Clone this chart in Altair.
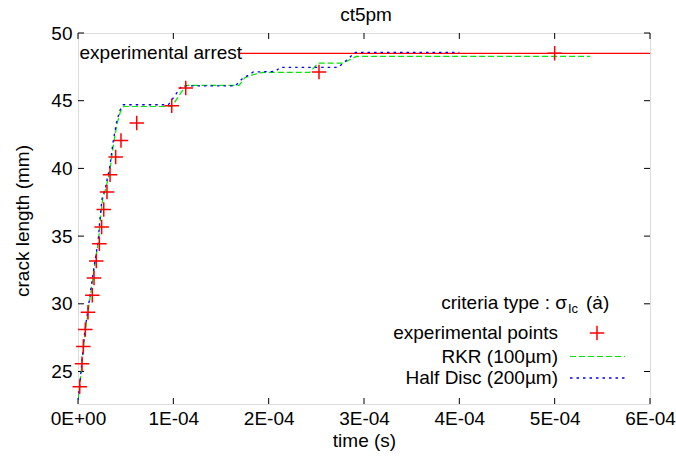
import altair as alt
import pandas as pd

# ---------------- data (time in s, crack length in mm) ----------------
exp_time = [0.018e-4, 0.042e-4, 0.056e-4, 0.077e-4, 0.105e-4, 0.150e-4, 0.168e-4,
            0.192e-4, 0.224e-4, 0.248e-4, 0.270e-4, 0.304e-4, 0.336e-4, 0.395e-4,
            0.451e-4, 0.616e-4, 0.983e-4, 1.130e-4, 2.528e-4, 5.000e-4]
exp_length = [23.88, 25.58, 26.84, 28.10, 29.38, 30.64, 31.91,
              33.17, 34.43, 35.68, 36.96, 38.25, 39.53, 40.84,
              42.06, 43.35, 44.63, 45.93, 47.12, 48.50]

rkr_time = [0.000e-4, 0.021e-4, 0.049e-4, 0.073e-4, 0.108e-4, 0.144e-4, 0.178e-4,
            0.213e-4, 0.235e-4, 0.258e-4, 0.295e-4, 0.340e-4, 0.375e-4, 0.410e-4,
            0.445e-4, 0.480e-4, 0.985e-4, 1.130e-4, 1.690e-4, 1.750e-4, 1.850e-4,
            1.940e-4, 2.430e-4, 2.520e-4, 2.780e-4, 2.920e-4, 5.370e-4]
rkr_length = [22.90, 24.10, 26.10, 27.80, 29.50, 31.30, 33.00,
              34.50, 36.20, 37.70, 38.60, 40.10, 41.90, 43.30,
              44.20, 44.57, 44.57, 46.13, 46.13, 46.70, 46.95,
              47.09, 47.09, 47.78, 47.78, 48.27, 48.27]

half_time = [0.000e-4, 0.020e-4, 0.047e-4, 0.070e-4, 0.105e-4, 0.140e-4, 0.175e-4,
             0.210e-4, 0.230e-4, 0.252e-4, 0.290e-4, 0.335e-4, 0.368e-4, 0.404e-4,
             0.440e-4, 0.475e-4, 0.947e-4, 1.090e-4, 1.650e-4, 1.720e-4, 1.840e-4,
             2.070e-4, 2.120e-4, 2.730e-4, 2.910e-4, 4.000e-4]
half_length = [22.90, 24.15, 26.15, 27.90, 29.60, 31.35, 33.05,
               34.55, 36.25, 37.75, 38.65, 40.20, 41.95, 43.40,
               44.30, 44.70, 44.70, 46.10, 46.10, 46.60, 47.12,
               47.16, 47.46, 47.46, 48.57, 48.57]

arrest_length = [48.5, 48.5]
arrest_time = [1.70e-4, 6.0e-4]

x_ticks = [0.0, 1e-4, 2e-4, 3e-4, 4e-4, 5e-4, 6e-4]
x_tick_labels = ["0E+00", "1E-04", "2E-04", "3E-04", "4E-04", "5E-04", "6E-04"]
y_ticks = [25, 30, 35, 40, 45, 50]

# ---------------- tables ----------------
df_exp = pd.DataFrame({"t": exp_time, "L": exp_length})
df_rkr = pd.DataFrame({"t": rkr_time, "L": rkr_length})
df_half = pd.DataFrame({"t": half_time, "L": half_length})
df_arrest = pd.DataFrame({"t": arrest_time, "L": arrest_length})
df_xt = pd.DataFrame({"t": x_ticks})
df_yt = pd.DataFrame({"L": y_ticks})

FONT = "Liberation Sans"
FS = 19
W, H = 572, 371
RED, GREEN, BLUE = "#ff0000", "#00e600", "#0000ff"
CROSS = "M-1,0L1,0M0,-1L0,1"

label_expr = "[" + ",".join("'%s'" % s for s in x_tick_labels) + "][round(datum.value*10000)]"

x_enc = alt.X(
    "t:Q",
    scale=alt.Scale(domain=[0, 6e-4], nice=False, zero=False),
    axis=alt.Axis(values=x_ticks, labelExpr=label_expr, title="time (s)",
                  domain=False, ticks=False, grid=False, labelPadding=5,
                  labelFontSize=FS, titleFontSize=FS, titleFontWeight="normal",
                  labelFont=FONT, titleFont=FONT, labelColor="black", titleColor="black",
                  titleX=W / 2, titleY=36, titleBaseline="middle", labelFlush=False),
)
y_enc = alt.Y(
    "L:Q",
    scale=alt.Scale(domain=[22.6, 50], nice=False, zero=False),
    axis=alt.Axis(values=y_ticks, title="crack length (mm)", format="d",
                  domain=False, ticks=False, grid=False, labelPadding=6,
                  labelFontSize=FS, titleFontSize=FS, titleFontWeight="normal",
                  labelFont=FONT, titleFont=FONT, labelColor="black", titleColor="black",
                  titleX=-56, titleY=H / 2 + 2, titleAngle=270, titleBaseline="middle",
                  titleAlign="center", labelFlush=False),
)

arrest = alt.Chart(df_arrest).mark_line(color=RED, strokeWidth=1.2, clip=True).encode(x=x_enc, y=y_enc)
rkr = alt.Chart(df_rkr).mark_line(color=GREEN, strokeWidth=1.2, strokeDash=[6, 3], clip=True).encode(x=x_enc, y=y_enc)
half = alt.Chart(df_half).mark_line(color=BLUE, strokeWidth=1.3, strokeDash=[2.5, 4], clip=True).encode(x=x_enc, y=y_enc)
pts = alt.Chart(df_exp).mark_point(shape=CROSS, filled=False, color=RED, size=210,
                                    strokeWidth=1.5, opacity=1).encode(x=x_enc, y=y_enc)

# inward ticks on all four sides
xt_bottom = alt.Chart(df_xt).mark_rule(color="black", strokeWidth=1).encode(
    x=x_enc, y=alt.value(H), y2=alt.value(H - 6))
xt_top = alt.Chart(df_xt).mark_rule(color="black", strokeWidth=1).encode(
    x=x_enc, y=alt.value(0), y2=alt.value(6))
yt_left = alt.Chart(df_yt).mark_rule(color="black", strokeWidth=1).encode(
    y=y_enc, x=alt.value(0), x2=alt.value(6))
yt_right = alt.Chart(df_yt).mark_rule(color="black", strokeWidth=1).encode(
    y=y_enc, x=alt.value(W), x2=alt.value(W - 6))

one = alt.Data(values=[{}])


def txt(s, x, y, align="left", size=FS, baseline="middle"):
    return alt.Chart(one).mark_text(text=s, align=align, baseline=baseline, font=FONT,
                                    fontSize=size, color="black").encode(
        x=alt.value(x), y=alt.value(y))


title_text = txt("ct5pm", W / 2 + 2, -12.5, align="center", baseline="alphabetic")
arrest_label = txt("experimental arrest", 1.5, 20)

leg_title1 = txt("criteria type : σ", 489, 270, align="right")
leg_title2 = txt("Ic", 490, 276, size=13)
leg_title3 = txt("(ȧ)", 508, 270)
leg_exp = txt("experimental points", 480, 300, align="right")
leg_rkr = txt("RKR (100µm)", 480, 323.5, align="right")
leg_half = txt("Half Disc (200µm)", 480, 345, align="right")

leg_cross = alt.Chart(one).mark_point(shape=CROSS, filled=False, color=RED, size=210,
                                      strokeWidth=1.5, opacity=1).encode(
    x=alt.value(519), y=alt.value(300))
leg_line_rkr = alt.Chart(one).mark_rule(color=GREEN, strokeWidth=1.2, strokeDash=[6, 3]).encode(
    x=alt.value(492), x2=alt.value(547), y=alt.value(323.5))
leg_line_half = alt.Chart(one).mark_rule(color=BLUE, strokeWidth=1.3, strokeDash=[2.5, 4]).encode(
    x=alt.value(492), x2=alt.value(547), y=alt.value(345))

chart = alt.layer(
    xt_bottom, xt_top, yt_left, yt_right,
    arrest, rkr, half, pts,
    title_text, arrest_label,
    leg_title1, leg_title2, leg_title3, leg_exp, leg_rkr, leg_half,
    leg_cross, leg_line_rkr, leg_line_half,
).properties(
    width=W, height=H,
    autosize=alt.AutoSizeParams(type="none"),
    padding={"left": 78, "top": 33, "right": 26, "bottom": 53},
).configure_view(
    stroke="black", strokeWidth=1.2
).configure(
    background="white"
)

chart.save("out.html", embed_options={"renderer": "svg", "actions": False})
